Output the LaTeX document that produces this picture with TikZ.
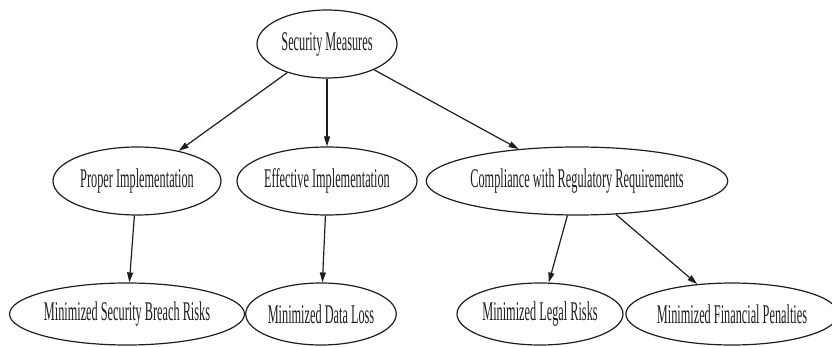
\documentclass[tikz,border=0pt]{standalone}
\usepackage{fontspec}
\usepackage{graphicx}
\setmainfont{Liberation Serif}
\usepackage{tikz}
\usetikzlibrary{shapes.geometric, arrows.meta}
\tikzstyle{diagramUnits} = [x = 1pt, y = -1pt]
\definecolor{lineColor}{RGB}{30,30,30}
\tikzstyle{measureNode} = [ellipse, draw=lineColor, line width=1.2pt, inner sep=0pt, text=lineColor, font=\fontsize{27}{30}\selectfont]
\tikzstyle{upperNode} = [measureNode, minimum height=68pt]
\tikzstyle{lowerNode} = [measureNode, minimum height=62pt]
\tikzstyle{leadsTo} = [draw=lineColor, line width=1.2pt, -{Triangle[length=10pt, width=6pt]}]
\newcommand{\squeeze}[1]{\scalebox{.455}[1]{#1}}

\begin{document}
\begin{tikzpicture}[diagramUnits]
  \useasboundingbox (0,0) rectangle (832,347);
  % top
  \node [upperNode, minimum width=140pt] (securityMeasures) at (327,44) {\squeeze{Security Measures}};
  % middle row
  \node [upperNode, minimum width=168pt] (properImpl) at (137,181) {\squeeze{Proper Implementation}};
  \node [upperNode, minimum width=180pt] (effectiveImpl) at (327,181) {\squeeze{Effective Implementation}};
  \node [upperNode, minimum width=296pt] (compliance) at (577,181) {\squeeze{Compliance with Regulatory Requirements}};
  % bottom row
  \node [lowerNode, minimum width=230pt] (breachRisks) at (127,314) {\squeeze{Minimized Security Breach Risks}};
  \node [lowerNode, minimum width=132pt] (dataLoss) at (321,314) {\squeeze{Minimized Data Loss}};
  \node [lowerNode, minimum width=166pt] (legalRisks) at (540,314) {\squeeze{Minimized Legal Risks}};
  \node [lowerNode, minimum width=198pt] (penalties) at (732,314) {\squeeze{Minimized Financial Penalties}};

  \draw [leadsTo] (securityMeasures) -- (properImpl);
  \draw [leadsTo] (securityMeasures) -- (effectiveImpl);
  \draw [leadsTo] (securityMeasures) -- (compliance);
  \draw [leadsTo] (properImpl) -- (breachRisks);
  \draw [leadsTo] (effectiveImpl) -- (dataLoss);
  \draw [leadsTo] (compliance) -- (legalRisks);
  \draw [leadsTo] (compliance) -- (penalties);
\end{tikzpicture}
\end{document}
